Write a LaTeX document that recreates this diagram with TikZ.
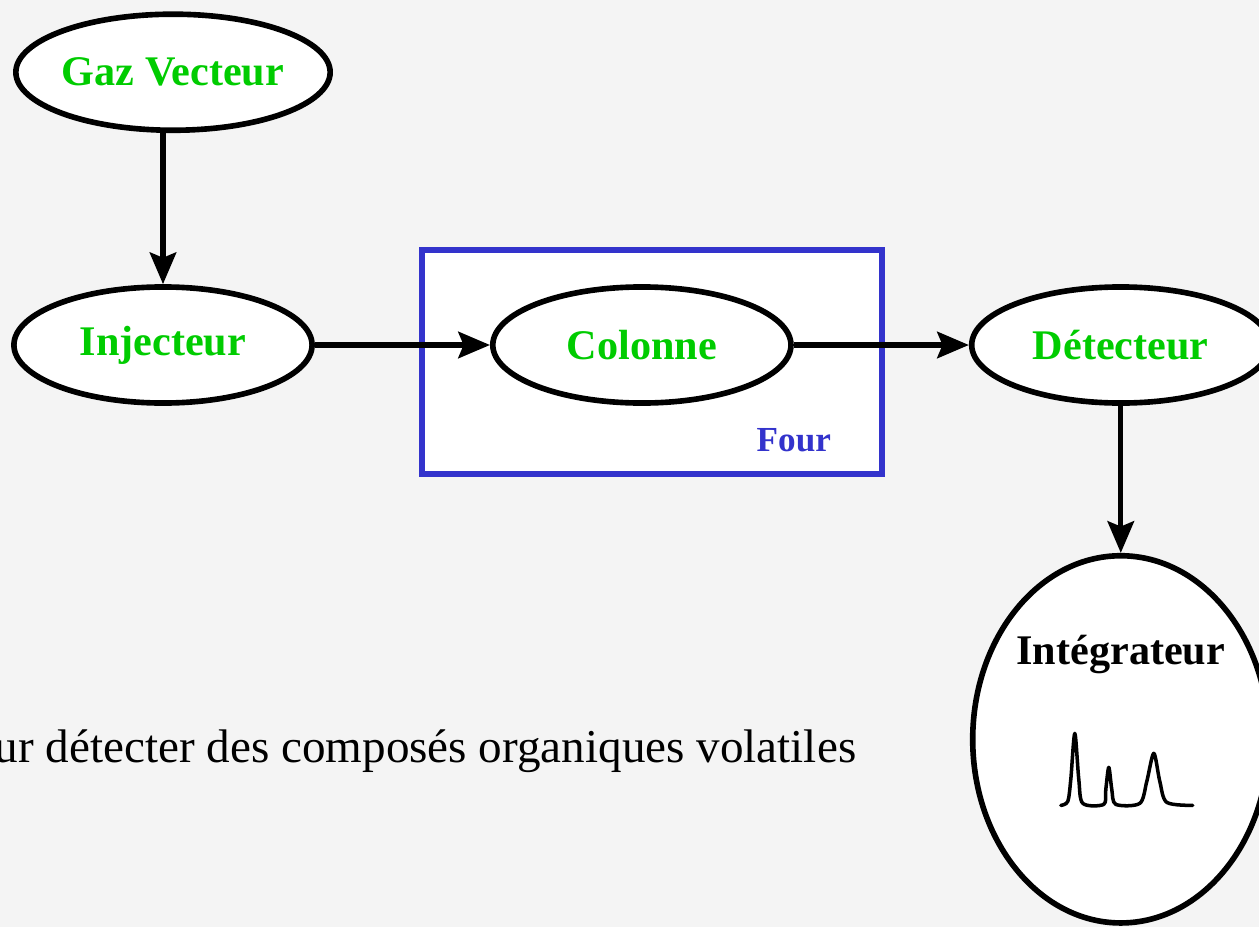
\documentclass[tikz,border=0pt]{standalone}
\usepackage{fontspec}
\setmainfont{Liberation Serif}
\usepackage{tikz}
\usetikzlibrary{
    shapes.geometric,
    arrows.meta,
    positioning,
    calc,
    backgrounds
}
\definecolor{vert}{RGB}{0,204,0}
\definecolor{bleu}{RGB}{51,51,204}
\definecolor{fond}{RGB}{244,244,244}

\begin{document}
\begin{tikzpicture}[
            x=0.01cm, y=0.01cm,
            node distance=1.51cm and 1.75cm,
            etape/.style={ellipse, draw, line width=1.6pt, fill=white, minimum width=2.98cm, minimum height=1.16cm, inner sep=0pt, text=vert, font=\fontsize{12}{14}\selectfont\bfseries},
            integ_node/.style={ellipse, draw, line width=1.6pt, fill=white, minimum width=2.96cm, minimum height=3.67cm, inner sep=0pt},
            integ_text/.style={text=black, font=\fontsize{12}{14}\selectfont\bfseries},
            four_box/.style={draw=bleu, line width=1.7pt, fill=white},
            four_label/.style={text=bleu, font=\fontsize{10}{12}\selectfont\bfseries},
            legende_text/.style={anchor=base east, inner sep=0pt, font=\fontsize{13.4}{16}\selectfont},
            flow_arrow/.style={-{Stealth[length=9pt, width=7.5pt, inset=1.5pt]}, line width=1.5pt, black},
            trace_line/.style={line width=1pt, black, line cap=round, line join=round}
        ]
        \useasboundingbox (0,0) rectangle (1259,-927);

        \node[etape] at (163,-345) (injecteur) {Injecteur};

        \node[etape, above=of injecteur, xshift=0.1cm] (gaz) {Gaz Vecteur};

        \node[etape, right=of injecteur] (colonne) {Colonne};

        \node[etape, right=of colonne] (detecteur) {Détecteur};

        \node[integ_node, below=1.47cm of detecteur] (integrateur) {};

        \node[integ_text] at ($(integrateur.center)+(0,85)$) (integrateur_txt) {Intégrateur};

        % le four autour de la colonne
        \coordinate (four_nw) at ($(colonne.west |- colonne.north)+(-68,34)$);
        \coordinate (four_se) at ($(colonne.east |- colonne.south)+(88,-68)$);
        \begin{scope}[on background layer]
            \fill[fond] (0,0) rectangle (1259,-927);
            \draw[four_box] (four_nw) rectangle (four_se);
        \end{scope}
        \node[four_label] at ($(four_se)+(-88,34)$) (four) {Four};

        \draw[flow_arrow] (injecteur.north |- gaz.south) -- (injecteur.north);
        \draw[flow_arrow] (injecteur.east) -- (colonne.west);
        \draw[flow_arrow] (colonne.east) -- (detecteur.west);
        \draw[flow_arrow] (detecteur.south) -- (integrateur.north);

        % chromatogramme
        \begin{scope}[shift={(integrateur.center)}]
            \draw[trace_line] plot[smooth, tension=0.5] coordinates {
                (-60,-66) (-53,-62) (-50,-40) (-46,6) (-42,-40) (-38,-64)
                (-17,-65) (-15,-50) (-12,-28) (-9,-50) (-5,-65)
                (19,-64) (26,-42) (33,-14) (39,-42) (46,-63) (72,-66)};
        \end{scope}

        \node[legende_text] at (857,-762) (legende) {ur détecter des composés organiques volatiles};

\end{tikzpicture}
\end{document}
